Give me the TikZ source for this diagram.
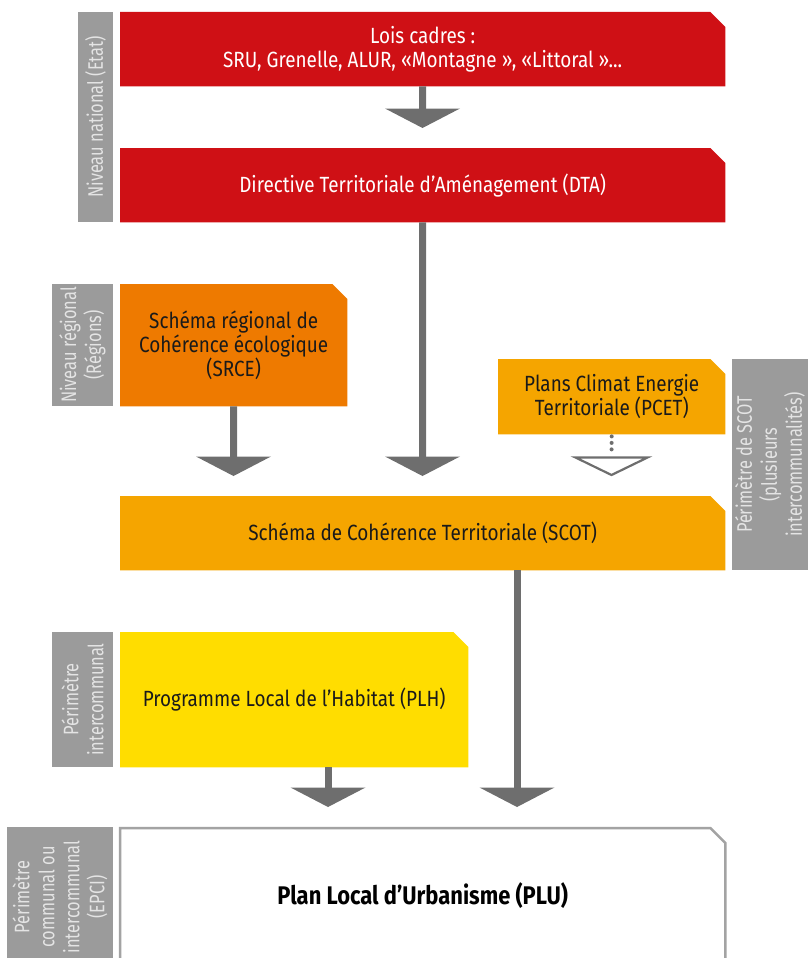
\documentclass[tikz,border=0pt]{standalone}
\usepackage{fontspec}
\setmainfont{Fira Sans}[FakeStretch=0.86]
\newfontfamily\labfont{Fira Sans}[FakeStretch=0.78]
\usetikzlibrary{backgrounds,calc}
\definecolor{cred}{HTML}{CF1015}
\definecolor{corange}{HTML}{EE7A00}
\definecolor{camber}{HTML}{F5A500}
\definecolor{cyellow}{HTML}{FFDD00}
\definecolor{clabel}{HTML}{9B9B9B}
\definecolor{clabtext}{HTML}{E4E4E4}
\definecolor{carrow}{HTML}{6E6E6E}
\definecolor{cborder}{HTML}{A3A3A3}
\definecolor{cdark}{HTML}{1A1A1A}
\newcommand\cornerbox[2]{\path[#2] (#1.south west) -- (#1.north west) -- ([xshift=-15pt]#1.north east) -- ([yshift=-15pt]#1.north east) -- (#1.south east) -- cycle;}
\begin{document}
\begin{tikzpicture}[x=1pt,y=-1pt,
  txt/.style={font=\fontsize{22}{24}\selectfont},
  box/.style={txt, anchor=north west, inner sep=0pt, align=center},
  lab/.style={font=\labfont\fontsize{21}{25}\selectfont, fill=clabel, text=clabtext, rotate=90, inner sep=0pt, align=center},
  shaft/.style={draw=carrow, line width=7pt},
  dots/.style={draw=carrow, line width=4pt, line cap=round, dash pattern=on 0pt off 6.5pt},
  pics/tipfull/.style={code={\fill[carrow] (-37.5,0) -- (37.5,0) -- (0,19.5) -- cycle;}},
  pics/tipopen/.style={code={\draw[carrow, line width=2.2pt, line join=miter] (-36,0) -- (36,0) -- (0,17.5) -- cycle;}}
]
\clip (0,0) rectangle (808,958);

% level labels
\node[lab, minimum width=210, minimum height=35] (l1) at (95.5,117) {Niveau national (Etat)};
\node[lab, minimum width=122, minimum height=61] (l2) at (82.5,345) {Niveau régional\\(Régions)};
\node[lab, minimum width=211, minimum height=76] (l3) at (770,464.5) {Périmètre de SCOT\\(plusieurs\\intercommunalités)};
\node[lab, minimum width=135, minimum height=61] (l4) at (82.5,699.5) {Périmètre\\intercommunal};
\node[lab, minimum width=140, minimum height=106] (l5) at (60,897) {Périmètre\\communal ou\\intercommunal\\(EPCI)};

% boxes
\node[box, text=white, minimum width=605, minimum height=74] (lois) at (120,12) {Lois cadres :\\SRU, Grenelle, ALUR, «Montagne », «Littoral »...};
\node[box, text=white, minimum width=605, minimum height=74] (dta) at (120,148) {Directive Territoriale d’Aménagement (DTA)};
\node[box, text=cdark, minimum width=227, minimum height=122] (srce) at (120,284) {Schéma régional de\\Cohérence écologique\\(SRCE)};
\node[box, text=cdark, minimum width=227, minimum height=75] (pcet) at (498,359) {Plans Climat Energie\\Territoriale (PCET)};
\node[box, text=cdark, minimum width=605, minimum height=74] (scot) at (120,496) {Schéma de Cohérence Territoriale (SCOT)};
\node[box, text=cdark, minimum width=348, minimum height=135] (plh) at (120,632) {Programme Local de l’Habitat (PLH)};
\node[box, text=black, font=\fontsize{25.5}{24}\selectfont\bfseries, minimum width=605, minimum height=134] (plu) at (120,828) {Plan Local d’Urbanisme (PLU)};

\begin{pgfonlayer}{background}
\cornerbox{lois}{fill=cred}
\cornerbox{dta}{fill=cred}
\cornerbox{srce}{fill=corange}
\cornerbox{pcet}{fill=camber}
\cornerbox{scot}{fill=camber}
\cornerbox{plh}{fill=cyellow}
\cornerbox{plu}{fill=white, draw=cborder, line width=2.5pt}
\end{pgfonlayer}

% connectors
\coordinate (t1) at (422.5,108.5);
\coordinate (t2) at (422.5,456.5);
\coordinate (t3) at (233.5,456.5);
\coordinate (t4) at (611.5,457.5);
\coordinate (t5) at (517,787.5);
\coordinate (t6) at (328,787.5);

\draw[shaft] (lois.south) -- ([yshift=-2pt]t1);
\pic at (t1) {tipfull};
\draw[shaft] (dta.south) -- ([yshift=-2pt]t2);
\pic at (t2) {tipfull};
\draw[shaft] (srce.south) -- ([yshift=-2pt]t3);
\pic at (t3) {tipfull};
\draw[dots] ([yshift=-2pt]pcet.south) -- ([yshift=3pt]t4);
\pic at (t4) {tipopen};
\draw[shaft] (t5 |- scot.south) -- ([yshift=-2pt]t5);
\pic at (t5) {tipfull};
\draw[shaft] (t6 |- plh.south) -- ([yshift=-2pt]t6);
\pic at (t6) {tipfull};
\end{tikzpicture}
\end{document}
